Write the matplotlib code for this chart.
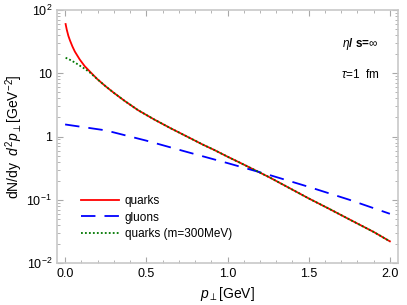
import matplotlib
matplotlib.use('Agg')
import matplotlib.pyplot as plt
import numpy as np
from matplotlib.ticker import FixedLocator, FixedFormatter, MultipleLocator, LogLocator, NullFormatter

plt.rcParams['font.family'] = ['Liberation Sans', 'DejaVu Sans']
plt.rcParams['mathtext.fontset'] = 'custom'
plt.rcParams['mathtext.rm'] = 'Liberation Sans'
plt.rcParams['mathtext.it'] = 'Liberation Sans:italic'
plt.rcParams['mathtext.bf'] = 'Liberation Sans:bold'

# Values
p_quarks = [0.003, 0.01, 0.02, 0.03, 0.045, 0.06, 0.09, 0.12, 0.15, 0.2, 0.25, 0.3, 0.37,
            0.45, 0.55, 0.65, 0.75, 0.85, 0.92, 1.0, 1.1, 1.26, 1.5, 1.63, 1.75, 1.9, 2.0]
dn_quarks = [60, 49, 39, 33, 26.5, 22, 16.5, 13, 10.8, 8.0, 6.2, 4.9, 3.6,
             2.6, 1.85, 1.35, 1.0, 0.74, 0.61, 0.48, 0.36, 0.225, 0.105, 0.071, 0.049, 0.031, 0.022]

p_gluons = [0.0, 0.25, 0.5, 0.75, 1.0, 1.25, 1.5, 1.75, 2.0]
dn_gluons = [1.55, 1.25, 0.86, 0.57, 0.38, 0.25, 0.16, 0.1, 0.06]

p_massive = [0.003, 0.03, 0.06, 0.09, 0.12, 0.15, 0.2, 0.25, 0.3, 0.37,
             0.45, 0.55, 0.65, 0.75, 0.85, 0.92, 1.0, 1.1, 1.26, 1.5, 1.63, 1.75, 1.9, 2.0]
dn_massive = [17.6, 16.3, 14.8, 13.2, 11.8, 10.4, 8.0, 6.2, 4.9, 3.6,
              2.6, 1.85, 1.35, 1.0, 0.74, 0.61, 0.48, 0.36, 0.225, 0.105, 0.071, 0.049, 0.031, 0.022]

y_ticks = [1e-2, 1e-1, 1, 10, 1e2]
y_tick_labels = ['$10^{-2}$', '$10^{-1}$', '1', '10', '$10^{2}$']

fig = plt.figure(figsize=(4.07, 3.05), dpi=100)
ax = fig.add_axes([57 / 407, 1 - 263 / 305, (398 - 57) / 407, (263 - 10) / 305])

ax.plot(p_quarks, dn_quarks, color='#ff0000', lw=1.3, label='quarks')
ax.plot(p_gluons, dn_gluons, color='#0000ff', lw=1.3, dashes=(8, 5), label='gluons')
ax.plot(p_massive, dn_massive, color='#007700', lw=1.3, linestyle=(0, (1, 1.2)),
        label='quarks (m=300MeV)')

ax.set_yscale('log')
ax.set_xlim(-0.05, 2.05)
ax.set_ylim(1e-2, 1e2)

ax.yaxis.set_major_locator(FixedLocator(y_ticks))
ax.yaxis.set_major_formatter(FixedFormatter(y_tick_labels))
ax.yaxis.set_minor_locator(LogLocator(base=10, subs=np.arange(2, 10)))
ax.yaxis.set_minor_formatter(NullFormatter())
ax.xaxis.set_major_locator(MultipleLocator(0.5))
ax.xaxis.set_minor_locator(MultipleLocator(0.1))
ax.xaxis.set_major_formatter(plt.FuncFormatter(lambda v, pos: f'{v:.1f}'))

for s in ax.spines.values():
  s.set_color('#c8c8c8')
  s.set_linewidth(1.2)
ax.tick_params(which='both', direction='in', top=True, right=True, color='#a8a8a8',
               labelsize=9, labelcolor='black')
ax.tick_params(which='major', length=4, width=0.8)
ax.tick_params(which='minor', length=2, width=0.6)

ax.set_xlabel(r'$p_\perp$[GeV]', fontsize=10)
ax.set_ylabel(r'dN/dy  $d^2 p_\perp$[GeV$^{-2}$]', fontsize=10)
ax.yaxis.set_label_coords(-0.095, 0.5)

ax.text(0.89, 0.865, r'$\eta$/ s=$\infty$', transform=ax.transAxes, fontsize=8.5,
        fontweight='bold', ha='center', va='center')
ax.text(0.89, 0.745, r'$\tau$=1  fm', transform=ax.transAxes, fontsize=8.5,
        ha='center', va='center')

ax.legend(loc='lower left', bbox_to_anchor=(0.04, 0.05), frameon=False, fontsize=8.5,
          handlelength=3.2, labelspacing=0.35, handletextpad=0.5)

fig.savefig('out.png', dpi=100)
